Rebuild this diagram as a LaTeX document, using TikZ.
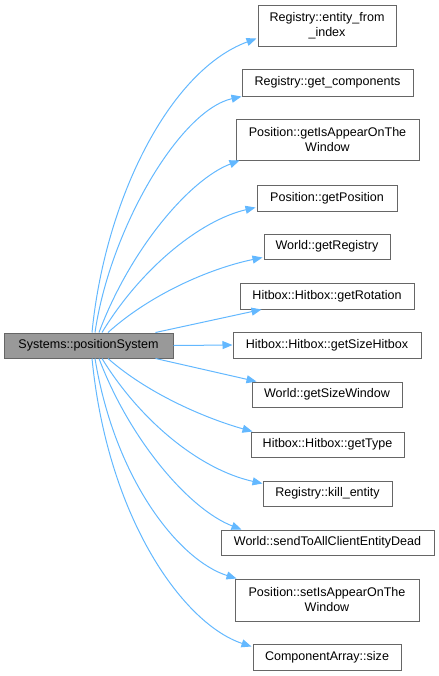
\documentclass[tikz,border=0pt]{standalone}
\usepackage{fontspec}
\setmainfont{Liberation Sans}
\usetikzlibrary{arrows.meta,calc}
\definecolor{edgeblue}{HTML}{63B8FF}
\definecolor{boxgray}{HTML}{666666}
\definecolor{mainfill}{HTML}{999999}
\tikzset{
  fn/.style={draw=boxgray, fill=white, line width=0.75pt, inner sep=0pt, align=center,
    font=\fontsize{9.4pt}{11.25pt}\selectfont, text=black},
  mainfn/.style={fn, fill=mainfill},
  call/.style={draw=edgeblue, line width=0.75pt, -{Triangle[length=7.5pt,width=6pt]}}
}
\begin{document}
\begin{tikzpicture}[x=0.75pt,y=-0.75pt]
\useasboundingbox (0,0) rectangle (439,676);
\node[mainfn, minimum width=169*0.75pt, minimum height=25*0.75pt] (m) at (88.5,345.5) {Systems::positionSystem};
\node[fn, minimum width=138*0.75pt, minimum height=41*0.75pt] (b1) at (327,25.5) {Registry::entity\_from\\\_index};
\node[fn, minimum width=171*0.75pt, minimum height=27*0.75pt] (b2) at (327.5,82.5) {Registry::get\_components};
\node[fn, minimum width=183*0.75pt, minimum height=41*0.75pt] (b3) at (327.5,139.5) {Position::getIsAppearOnThe\\Window};
\node[fn, minimum width=140*0.75pt, minimum height=26*0.75pt] (b4) at (327,198) {Position::getPosition};
\node[fn, minimum width=126*0.75pt, minimum height=25*0.75pt] (b5) at (327,246.5) {World::getRegistry};
\node[fn, minimum width=174*0.75pt, minimum height=26*0.75pt] (b6) at (327,296) {Hitbox::Hitbox::getRotation};
\node[fn, minimum width=188*0.75pt, minimum height=26*0.75pt] (b7) at (327,345) {Hitbox::Hitbox::getSizeHitbox};
\node[fn, minimum width=150*0.75pt, minimum height=25*0.75pt] (b8) at (327,394.5) {World::getSizeWindow};
\node[fn, minimum width=153*0.75pt, minimum height=25*0.75pt] (b9) at (327.5,444.5) {Hitbox::Hitbox::getType};
\node[fn, minimum width=129*0.75pt, minimum height=25*0.75pt] (b10) at (327.5,493.5) {Registry::kill\_entity};
\node[fn, minimum width=213*0.75pt, minimum height=25*0.75pt] (b11) at (327.5,542.5) {World::sendToAllClientEntityDead};
\node[fn, minimum width=184*0.75pt, minimum height=42*0.75pt] (b12) at (327,600) {Position::setIsAppearOnThe\\Window};
\node[fn, minimum width=148*0.75pt, minimum height=26*0.75pt] (b13) at (327,657) {ComponentArray::size};

\draw[call] ($(m.north)+(3.5,0)$) .. controls +(13,-133) and +(-87,32) .. ($(b1.south west)+(-1,-8)$);
\draw[call] ($(m.north)+(6.5,0)$) .. controls +(15,-103) and +(-62,14) .. (b2.south west);
\draw[call] ($(m.north)+(10.5,0)$) .. controls +(31,-83) and +(-50,19) .. ($(b3.south west)+(4,0)$);
\draw[call] ($(m.north)+(13.5,0)$) .. controls +(38,-63) and +(-56,13) .. ($(b4.south west)+(-1,-4)$);
\draw[call] ($(m.north)+(19.5,0)$) .. controls +(42,-38) and +(-53,11) .. ($(b5.south west)+(-1,-2)$);
\draw[call] ($(m.north east)+(-18,0)$) -- ($(b6.south west)+(22,0)$);
\draw[call] (m.east) -- (b7.west);
\draw[call] ($(m.south east)+(-18,0)$) -- ($(b8.north west)+(5,0)$);
\draw[call] ($(m.south)+(19.5,0)$) .. controls +(42,37) and +(-43,-12) .. ($(b9.north west)+(2,0)$);
\draw[call] ($(m.south)+(13.5,0)$) .. controls +(38,62) and +(-63,-14) .. ($(b10.north west)+(0,3)$);
\draw[call] ($(m.south)+(10.5,0)$) .. controls +(31,82) and +(-52,-20) .. ($(b11.north west)+(21,0)$);
\draw[call] ($(m.south)+(6.5,0)$) .. controls +(20,122) and +(-57,-18) .. ($(b12.north west)+(2,0)$);
\draw[call] ($(m.south)+(3.5,0)$) .. controls +(16,162) and +(-67,-22) .. ($(b13.north west)+(-1,3)$);
\end{tikzpicture}
\end{document}
